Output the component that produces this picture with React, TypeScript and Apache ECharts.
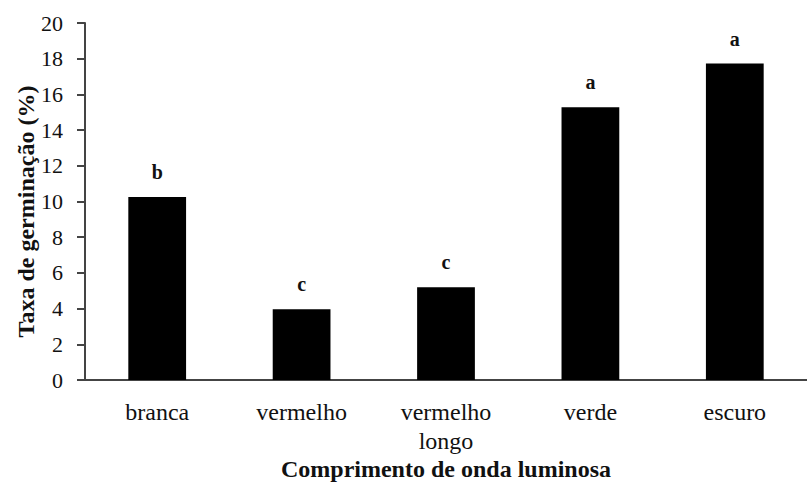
import React, { useEffect, useRef } from "react";
import * as echarts from "echarts";

const categories = ["branca", "vermelho", "vermelho\nlongo", "verde", "escuro"];
const values = [10.25, 3.97, 5.2, 15.28, 17.73];
const letters = ["b", "c", "c", "a", "a"];
const yTicks = { min: 0, max: 20, interval: 2 };
const xTitle = "Comprimento de onda luminosa";
const yTitle = "Taxa de germinação (%)";

const FONT = "'Liberation Serif', 'Times New Roman', serif";

export default function App() {
  const ref = useRef<HTMLDivElement>(null);
  useEffect(() => {
    if (!ref.current) return;
    const chart = echarts.init(ref.current, null, { renderer: "svg" });
    chart.setOption({
      animation: false,
      backgroundColor: "#ffffff",
      grid: { left: 85, top: 23, bottom: 104, width: 733 },
      xAxis: {
        type: "category",
        data: categories,
        name: xTitle,
        nameLocation: "middle",
        nameGap: 77,
        nameMoveOverlap: false,
        nameTextStyle: { fontFamily: FONT, fontSize: 24, fontWeight: "bold", color: "#111" },
        axisLine: { show: true, lineStyle: { color: "#444", width: 2 } },
        axisTick: { show: false },
        axisLabel: {
          fontFamily: FONT,
          fontSize: 24,
          color: "#111",
          lineHeight: 29,
          margin: 17,
          interval: 0,
        },
        splitLine: { show: false },
      },
      yAxis: {
        type: "value",
        min: yTicks.min,
        max: yTicks.max,
        interval: yTicks.interval,
        name: yTitle,
        nameLocation: "middle",
        nameRotate: 90,
        nameGap: 47,
        nameMoveOverlap: false,
        nameTextStyle: {
          fontFamily: FONT,
          fontSize: 24,
          fontWeight: "bold",
          color: "#111",
          padding: [0, 20, 0, 0],
        },
        axisLine: { show: true, lineStyle: { color: "#444", width: 2 } },
        axisTick: { show: true, inside: false, length: 8, lineStyle: { color: "#444", width: 2 } },
        axisLabel: { fontFamily: FONT, fontSize: 22, color: "#111", margin: 22 },
        splitLine: { show: false },
      },
      series: [
        {
          type: "bar",
          data: values,
          barWidth: "40%",
          itemStyle: { color: "#000000" },
          label: {
            show: true,
            position: "top",
            distance: 15,
            formatter: (p: any) => letters[p.dataIndex],
            fontFamily: FONT,
            fontSize: 20,
            fontWeight: "bold",
            color: "#111",
          },
        },
      ],
    });
    return () => chart.dispose();
  }, []);
  return (
    <div
      ref={ref}
      style={{ position: "absolute", left: 0, top: 0, width: 807, height: 486 }}
    />
  );
}
